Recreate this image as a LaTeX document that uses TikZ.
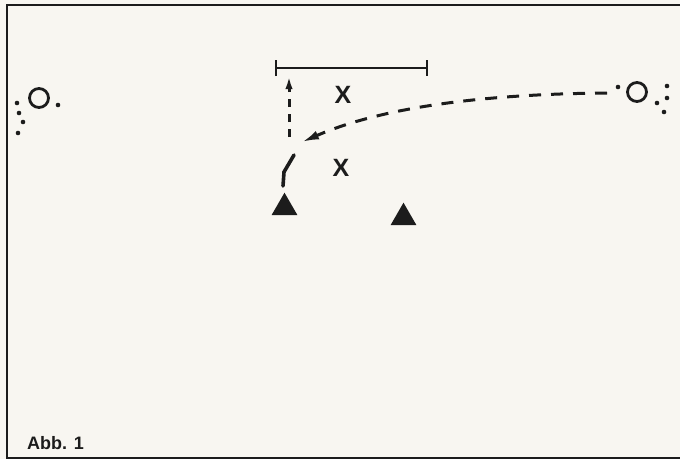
\documentclass[tikz,border=0pt]{standalone}
\usepackage{fontspec}
\setmainfont{Liberation Sans}
\usetikzlibrary{arrows.meta,shapes.geometric}
\definecolor{paper}{HTML}{F8F6F1}
\definecolor{ink}{HTML}{1C1C1C}
\tikzset{player/.style={draw=ink,circle,line width=2.8pt,minimum size=19pt,inner sep=0pt},cone/.style={regular polygon,regular polygon sides=3,fill=ink,minimum size=30pt,inner sep=0pt},opp/.style={font=\bfseries\fontsize{25}{25}\selectfont,text=ink,inner sep=0pt},ballpt/.style={circle,fill=ink,minimum size=4.6pt,inner sep=0pt},pass/.style={draw=ink,line width=3pt,dash pattern=on 12pt off 10pt,-{Latex[length=17pt,width=9pt]}},run/.style={draw=ink,line width=3pt,dash pattern=on 8pt off 7pt,-{Latex[length=15pt,width=7pt]}},goal/.style={draw=ink,line width=2.4pt,{Bar[width=16pt,line width=2.4pt]}-{Bar[width=16pt,line width=2.4pt]}}}

\begin{document}
\begin{tikzpicture}[x=1pt,y=-1pt]
\fill[paper] (0,0) rectangle (680,459);
\useasboundingbox (0,0) rectangle (680,459);
% frame, open on the right
\draw[ink,line width=2.8pt] (690,5) -- (7,5) -- (7,458) -- (690,458);
% players and balls
\node[player] (pleft) at (39,98) {};
\node[player] (pright) at (637,92) {};
\node[ballpt] (bleft) at (58,105) {};
\node[ballpt] (bright) at (618,87) {};
\foreach \p in {(17,103),(19,113),(23,122),(18,133),(667,86),(667,98),(657,103),(664,112)}
 \node[ballpt] at \p {};
% goal
\coordinate (goalL) at (275,68);
\coordinate (goalR) at (428,68);
\draw[goal] (goalL) -- (goalR);
% opponents
\node[opp] (xtop) at (343,95) {X};
\node[opp] (xbot) at (341,168) {X};
% cones
\node[cone] (cone1) at (284.5,207.7) {};
\node[cone] (cone2) at (403.5,217.7) {};
% header and runs
\coordinate (hfoot) at (283,186);
\coordinate (hknee) at (284,172);
\coordinate (hhead) at (294,155);
\draw[ink,line width=3.6pt,line cap=round] (hfoot) -- (hknee) -- (hhead);
\coordinate (runstart) at (289,137);
\coordinate (runend) at (289,74);
\draw[run] (runstart) -- (runend);
\coordinate (passstart) at (607,93);
\coordinate (passend) at (302,142);
\draw[pass] (passstart) .. controls (480,94) and (380,108) .. (passend);
% caption
\node[anchor=west,font=\bfseries\fontsize{18}{18}\selectfont,text=ink,inner sep=0pt] (caption) at (27,443) {Abb. 1};
\end{tikzpicture}
\end{document}
